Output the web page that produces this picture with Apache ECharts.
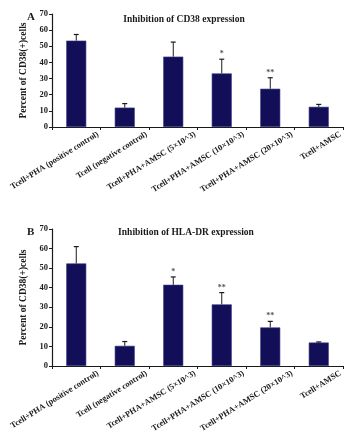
<!DOCTYPE html>
<html>
<head>
<meta charset="utf-8">
<style>
  html, body { margin: 0; padding: 0; background: #fff; }
  #chart { width: 353px; height: 442px; }
</style>
<script src="https://cdn.jsdelivr.net/npm/echarts@6/dist/echarts.min.js"></script>
</head>
<body>
<div id="chart"></div>
<script>
const categories = [
  "Tcell+PHA (positive control)",
  "Tcell (negative control)",
  "Tcell+PHA+AMSC (5\u00d710^3)",
  "Tcell+PHA+AMSC (10\u00d710^3)",
  "Tcell+PHA+AMSC (20\u00d710^3)",
  "Tcell+AMSC"
];
const yTicks = [0, 10, 20, 30, 40, 50, 60, 70];

// A: CD38
const cd38Mean = [53.5, 12, 43.6, 33.2, 23.7, 12.5];
const cd38Err = [57.3, 14.5, 52.6, 42, 30.5, 14];
const cd38Stars = ["", "", "", "*", "**", ""];

// B: HLA-DR
const hlaMean = [52.4, 10.3, 41.5, 31.5, 19.7, 12];
const hlaErr = [61, 12.5, 45.5, 37.5, 22.8, 12.3];
const hlaStars = ["", "", "*", "**", "**", ""];

const SERIF = "'Liberation Serif', 'DejaVu Serif', serif";
const INK = "#1a1a1a";
const BAR = "#120f58";

const grids = [
  { left: 52, right: 10, top: 14, bottom: 315, outerBoundsMode: "none" },
  { left: 52, right: 10, top: 229, bottom: 76, outerBoundsMode: "none" }
];

function errSeries(idx, mean, err, stars) {
  return {
    type: "custom",
    xAxisIndex: idx * 2,
    yAxisIndex: idx,
    data: mean.map((m, i) => [i, m, err[i]]),
    z: 5,
    renderItem(params, api) {
      const i = api.value(0);
      const base = api.coord([i, api.value(1)]);
      const top = api.coord([i, api.value(2)]);
      const children = [
        { type: "line", shape: { x1: base[0], y1: base[1], x2: top[0], y2: top[1] }, style: { stroke: INK, lineWidth: 1 } },
        { type: "line", shape: { x1: top[0] - 2.5, y1: top[1], x2: top[0] + 2.5, y2: top[1] }, style: { stroke: INK, lineWidth: 1.2 } }
      ];
      const s = stars[params.dataIndex];
      if (s) {
        children.push({
          type: "text",
          style: { text: s, x: top[0], y: top[1] - 1, align: "center", verticalAlign: "bottom", font: "bold 8px " + SERIF, fill: "#555" }
        });
      }
      return { type: "group", children };
    }
  };
}

const xAxes = [];
const yAxes = [];
[0, 1].forEach((g) => {
  // bar axis (hidden)
  xAxes.push({
    type: "category", gridIndex: g, position: "bottom", data: categories, boundaryGap: true,
    axisLine: { show: false }, axisTick: { show: false }, axisLabel: { show: false }
  });
  // label axis: ticks and labels at category boundaries
  xAxes.push({
    type: "category", gridIndex: g, position: "bottom", data: [""].concat(categories), boundaryGap: false,
    axisLine: { show: true, lineStyle: { color: INK, width: 1.2 } },
    axisTick: { show: true, length: 3, lineStyle: { color: INK } },
    axisLabel: {
      show: true, interval: 0, rotate: 32, margin: 5, align: "right", padding: [0, 3, 0, 0],
      fontFamily: SERIF, fontWeight: "bold", fontSize: 8.4, color: INK
    },
    splitLine: { show: false }
  });
  yAxes.push({
    type: "value", gridIndex: g, min: yTicks[0], max: yTicks[yTicks.length - 1], interval: 10,
    name: "Percent of CD38(+)cells", nameLocation: "middle", nameGap: 20,
    nameTextStyle: { fontFamily: SERIF, fontWeight: "bold", fontSize: 9.5, color: INK },
    axisLine: { show: true, lineStyle: { color: INK, width: 1.2 } },
    axisTick: { show: true, length: 3, lineStyle: { color: INK } },
    axisLabel: { fontFamily: SERIF, fontWeight: "bold", fontSize: 8.5, color: INK, margin: 4 },
    splitLine: { show: false }
  });
});

const chart = echarts.init(document.getElementById("chart"));
chart.setOption({
  backgroundColor: "#fff",
  animation: false,
  title: [
    { text: "A", left: 22, top: 7, textStyle: { fontFamily: SERIF, fontWeight: "bold", fontSize: 11, color: INK } },
    { text: "Inhibition of CD38 expression", left: 179, top: 10, textAlign: "center", textStyle: { fontFamily: SERIF, fontWeight: "bold", fontSize: 9.5, color: INK } },
    { text: "B", left: 22, top: 222, textStyle: { fontFamily: SERIF, fontWeight: "bold", fontSize: 11, color: INK } },
    { text: "Inhibition of HLA-DR expression", left: 181, top: 223, textAlign: "center", textStyle: { fontFamily: SERIF, fontWeight: "bold", fontSize: 9.5, color: INK } }
  ],
  grid: grids,
  xAxis: xAxes,
  yAxis: yAxes,
  series: [
    { type: "bar", xAxisIndex: 0, yAxisIndex: 0, data: cd38Mean, barWidth: 20, itemStyle: { color: BAR, borderColor: "#3b3a86", borderWidth: 0.6 } },
    errSeries(0, cd38Mean, cd38Err, cd38Stars),
    { type: "bar", xAxisIndex: 2, yAxisIndex: 1, data: hlaMean, barWidth: 20, itemStyle: { color: BAR, borderColor: "#3b3a86", borderWidth: 0.6 } },
    errSeries(1, hlaMean, hlaErr, hlaStars)
  ]
});
</script>
</body>
</html>
